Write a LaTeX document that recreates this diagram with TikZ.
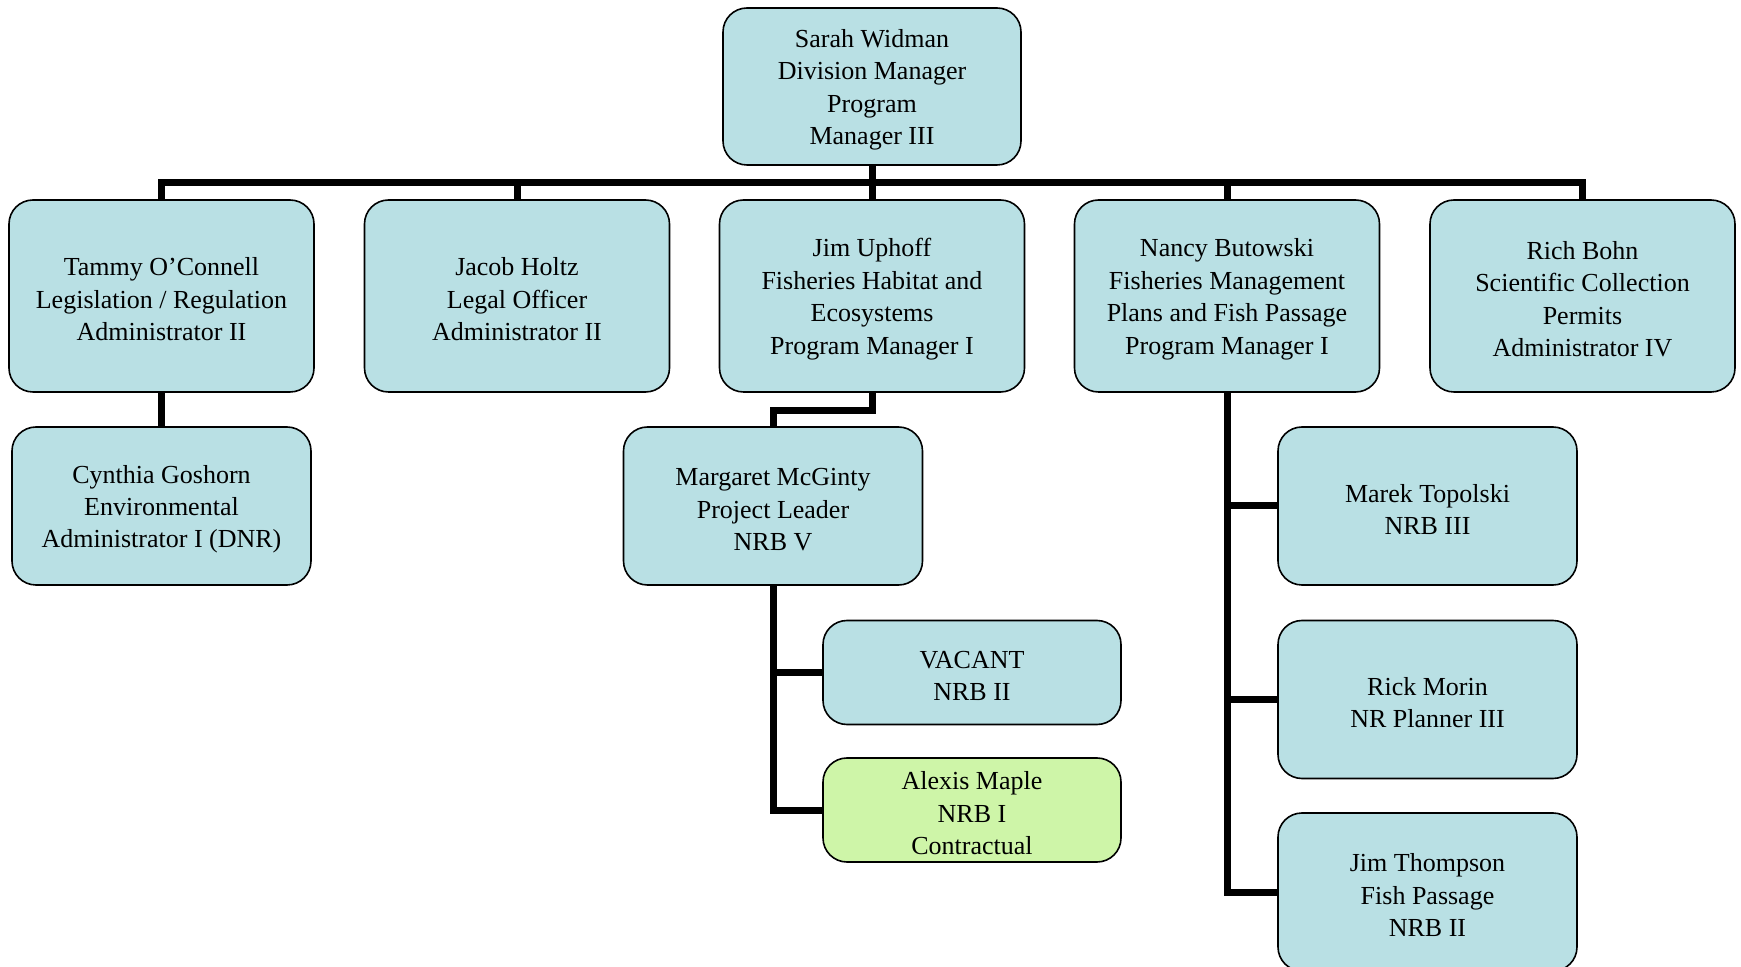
\documentclass[tikz,border=0pt]{standalone}
\usepackage{fontspec}
\setmainfont{Liberation Serif}
\definecolor{boxblue}{RGB}{185,224,228}
\definecolor{boxgreen}{RGB}{206,245,168}
\newcommand{\toppad}{\rule{0pt}{12.3pt}}
\begin{document}
\begin{tikzpicture}[x=0.5pt,y=-0.5pt,
  person/.style={draw=black, line width=0.8pt, fill=boxblue, rounded corners=12pt,
    align=center, inner sep=0pt, font=\fontsize{13}{16.2}\selectfont},
  toprow/.style={person, minimum width=152.5pt, minimum height=96pt},
  sub/.style={person, minimum width=149.5pt, minimum height=79pt},
  small/.style={person, minimum width=149pt, minimum height=52pt},
  link/.style={line width=3.5pt}]
\useasboundingbox (0,0) rectangle (1741,967);
\clip (0,0) rectangle (1741,967);
\node[person, minimum width=149pt, minimum height=78.5pt] (sarah) at (872,86.5)
  {\toppad Sarah Widman\\Division Manager\\Program\\Manager III};
\node[toprow] (tammy) at (161.5,296) {\toppad Tammy O’Connell\\Legislation / Regulation\\Administrator II};
\node[toprow] (jacob) at (517,296) {\toppad Jacob Holtz\\Legal Officer\\Administrator II};
\node[toprow] (jim) at (872,296) {\toppad Jim Uphoff\\Fisheries Habitat and\\Ecosystems\\Program Manager I};
\node[toprow] (nancy) at (1227,296) {\toppad Nancy Butowski\\Fisheries Management\\Plans and Fish Passage\\Program Manager I};
\node[toprow] (rich) at (1582.5,296) {\toppad Rich Bohn\\Scientific Collection\\Permits\\Administrator IV};
\node[sub] (cynthia) at (161.5,506) {\toppad Cynthia Goshorn\\Environmental\\Administrator I (DNR)};
\node[sub] (margaret) at (773,506) {\toppad Margaret McGinty\\Project Leader\\NRB V};
\node[small] (vacant) at (972,672.5) {\toppad VACANT\\NRB II};
\node[small, fill=boxgreen] (alexis) at (972,810) {\toppad Alexis Maple\\NRB I\\Contractual};
\node[sub] (marek) at (1427.5,506) {\toppad Marek Topolski\\NRB III};
\node[sub] (rick) at (1427.5,699.5) {\toppad Rick Morin\\NR Planner III};
\node[sub] (jimt) at (1427.5,892) {\toppad Jim Thompson\\Fish Passage\\NRB II};
\foreach \c in {tammy,jacob,jim,nancy,rich}
  \draw[link] (sarah.south) -- ++(0,17) -| (\c.north);
\draw[link] (tammy.south) -- (cynthia.north);
\draw[link] (jim.south) -- ++(0,18) -| (margaret.north);
\draw[link] (margaret.south) |- (vacant.west);
\draw[link] (margaret.south) |- (alexis.west);
\draw[link] (nancy.south) |- (marek.west);
\draw[link] (nancy.south) |- (rick.west);
\draw[link] (nancy.south) |- (jimt.west);
\end{tikzpicture}
\end{document}
